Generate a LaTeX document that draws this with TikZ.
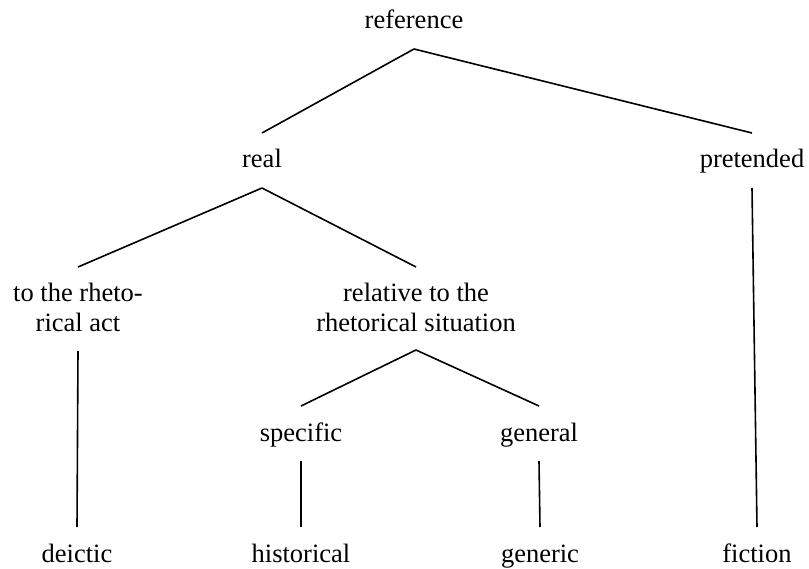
\documentclass[tikz,border=0pt]{standalone}
\usepackage{fontspec}
\setmainfont{Liberation Serif}
\begin{document}
\begin{tikzpicture}[x=1pt, y=-1pt, line width=1.6pt,
    term/.style={anchor=base, inner sep=0pt, align=center,
      font=\fontsize{26.5pt}{30pt}\selectfont}]
    \useasboundingbox (0,0) rectangle (809,569);

    \node[term] (reference) at (414,29) {reference};
    \node[term] (real) at (262,168) {real};
    \node[term] (pretended) at (752,168) {pretended};
    \node[term] (act) at (78,332) {to the rheto-\\rical act};
    \node[term] (situation) at (416,332) {relative to the\\rhetorical situation};
    \node[term] (specific) at (301,441) {specific};
    \node[term] (general) at (539,441) {general};
    \node[term] (deictic) at (77,562) {deictic};
    \node[term] (historical) at (301,562) {historical};
    \node[term] (generic) at (540,562) {generic};
    \node[term] (fiction) at (757,562) {fiction};

    \draw ([yshift=-20pt]reference.base) -- ([yshift=35pt]real.base);
    \draw ([yshift=-20pt]reference.base) -- ([yshift=35pt]pretended.base);
    \draw ([yshift=-20pt]real.base) -- ([yshift=65pt]act.base);
    \draw ([yshift=-20pt]real.base) -- ([yshift=65pt]situation.base);
    \draw ([yshift=-19pt]act.base) -- ([yshift=35pt]deictic.base);
    \draw ([yshift=-18pt]situation.base) -- ([yshift=35pt]specific.base);
    \draw ([yshift=-18pt]situation.base) -- ([yshift=35pt]general.base);
    \draw ([yshift=-20pt]specific.base) -- ([yshift=35pt]historical.base);
    \draw ([yshift=-20pt]general.base) -- ([yshift=35pt]generic.base);
    \draw ([yshift=-20pt]pretended.base) -- ([yshift=35pt]fiction.base);
\end{tikzpicture}
\end{document}
